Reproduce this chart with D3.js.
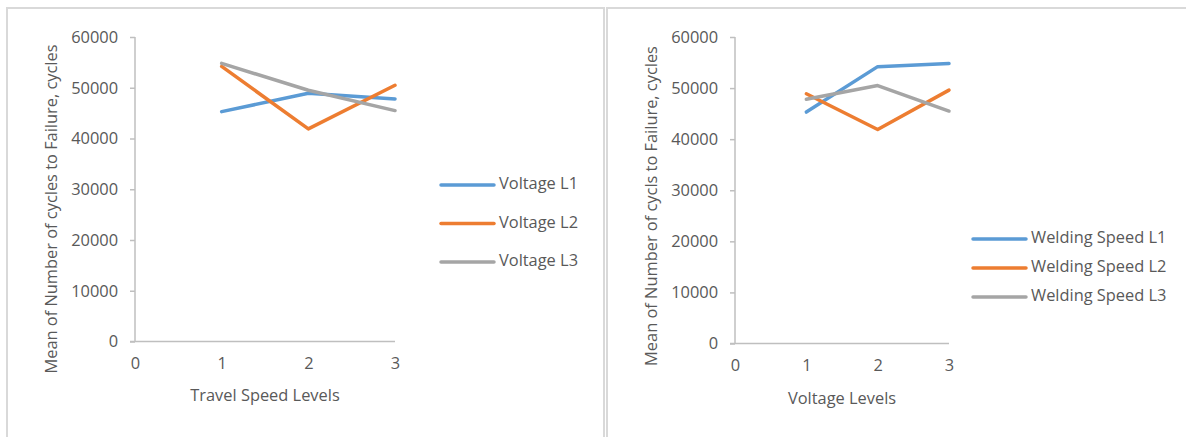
<!DOCTYPE html>
<html>
<head>
<meta charset="utf-8">
<script src="https://cdn.jsdelivr.net/npm/d3@7"></script>
<style>
  html, body { margin: 0; padding: 0; background: #ffffff; }
  svg { display: block; }
  text { font-family: "Open Sans", "Noto Sans", sans-serif; fill: #595959; }
</style>
</head>
<body>
<svg id="chart" width="1186" height="437"></svg>
<script>
// Mean number of cycles to failure by level
const levels = [1, 2, 3];
const xTicks = [0, 1, 2, 3];
const yTicks = [0, 10000, 20000, 30000, 40000, 50000, 60000];

// Left chart: x = travel speed level, one line per voltage level
const voltageNames = ["Voltage L1", "Voltage L2", "Voltage L3"];
const voltageL1 = [45300, 48900, 47800];
const voltageL2 = [54200, 41900, 50500];
const voltageL3 = [54800, 49500, 45500];

// Right chart: x = voltage level, one line per welding speed level
const speedNames = ["Welding Speed L1", "Welding Speed L2", "Welding Speed L3"];
const speedL1 = [45300, 54200, 54800];
const speedL2 = [48900, 41900, 49600];
const speedL3 = [47800, 50500, 45500];

const colors = ["#5b9bd5", "#ed7d31", "#a5a5a5"];
const fontSize = "16.4px";

const svg = d3.select("#chart");

// panel frames
const frame = svg.append("g").attr("fill", "none").attr("stroke", "#d9d9d9").attr("stroke-width", 2);
frame.append("path").attr("d", "M7,437 V8 H604 V437");
frame.append("path").attr("d", "M607,437 V8 H1186");

function drawChart(opt) {
  const g = svg.append("g");
  const x = d3.scaleLinear().domain([0, 3]).range([opt.x0, opt.x1]);
  const y = d3.scaleLinear().domain([0, 60000]).range([opt.y0, opt.y1]);

  // y axis
  const yAxis = g.append("g")
    .attr("transform", `translate(${opt.x0},0)`)
    .call(d3.axisLeft(y).tickValues(yTicks).tickSize(5).tickPadding(12).tickFormat(d3.format("d")));
  yAxis.select(".domain").attr("stroke", "#bfbfbf").attr("stroke-width", 1.5).attr("d", `M0,${opt.y1}V${opt.y0}`);
  yAxis.selectAll(".tick line").attr("stroke", "#bfbfbf").attr("stroke-width", 1.5);
  yAxis.selectAll(".tick text").style("font-size", fontSize).attr("fill", "#595959")
    .style("font-family", '"Open Sans", sans-serif');

  // x axis
  const xAxis = g.append("g")
    .attr("transform", `translate(0,${opt.y0})`)
    .call(d3.axisBottom(x).tickValues(xTicks).tickSize(0).tickPadding(opt.xPad).tickFormat(d3.format("d")));
  xAxis.select(".domain").attr("stroke", "#bfbfbf").attr("stroke-width", 1.5).attr("d", `M${opt.x0 - 5},0H${opt.x1}`);
  xAxis.selectAll(".tick text").style("font-size", fontSize).attr("fill", "#595959")
    .style("font-family", '"Open Sans", sans-serif');

  // axis titles
  g.append("text")
    .attr("x", (opt.x0 + opt.x1) / 2).attr("y", opt.xTitleY)
    .attr("text-anchor", "middle").attr("dominant-baseline", "middle")
    .style("font-size", fontSize).text(opt.xTitle);
  g.append("text")
    .attr("transform", `translate(${opt.yTitleX},${opt.yTitleY}) rotate(-90)`)
    .attr("text-anchor", "middle").attr("dominant-baseline", "middle")
    .style("font-size", fontSize).text(opt.yTitle);

  // series lines
  const line = d3.line().x((d, i) => x(levels[i])).y(d => y(d));
  opt.series.forEach((s, k) => {
    g.append("path").datum(s)
      .attr("fill", "none").attr("stroke", colors[k]).attr("stroke-width", 3.5)
      .attr("stroke-linejoin", "round").attr("stroke-linecap", "round")
      .attr("d", line);
  });

  // legend
  opt.names.forEach((name, k) => {
    const ly = opt.legY + k * opt.legStep;
    g.append("line")
      .attr("x1", opt.legX).attr("x2", opt.legX + 53).attr("y1", ly).attr("y2", ly)
      .attr("stroke", colors[k]).attr("stroke-width", 3.5).attr("stroke-linecap", "round");
    g.append("text")
      .attr("x", opt.legX + 58).attr("y", ly)
      .attr("dominant-baseline", "middle")
      .style("font-size", fontSize).text(name);
  });
}

drawChart({
  x0: 135, x1: 395, y0: 341.5, y1: 37, xPad: 16,
  xTitle: "Travel Speed Levels", xTitleY: 397,
  yTitle: "Mean of Number of cycles to Failure, cycles", yTitleX: 53, yTitleY: 209,
  series: [voltageL1, voltageL2, voltageL3], names: voltageNames,
  legX: 441, legY: 185, legStep: 38.5
});

drawChart({
  x0: 735, x1: 949, y0: 343.5, y1: 37, xPad: 16,
  xTitle: "Voltage Levels", xTitleY: 400,
  yTitle: "Mean of Number of cycls to Failure, cycles", yTitleX: 653, yTitleY: 206,
  series: [speedL1, speedL2, speedL3], names: speedNames,
  legX: 973, legY: 239, legStep: 29
});
</script>
</body>
</html>
